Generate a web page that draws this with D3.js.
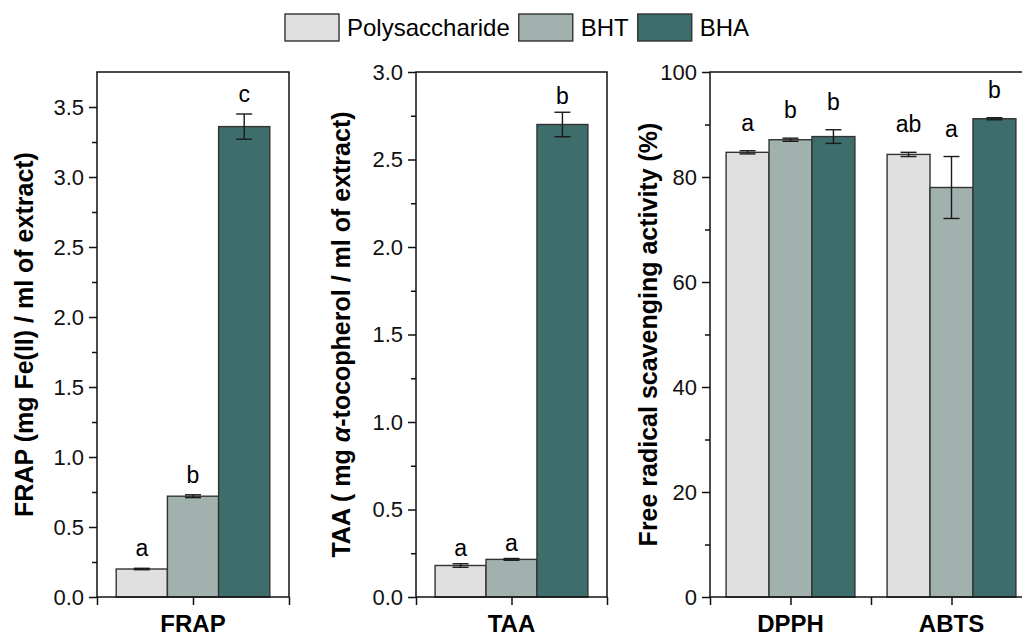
<!DOCTYPE html>
<html>
<head>
<meta charset="utf-8">
<script src="https://cdn.jsdelivr.net/npm/d3@7"></script>
<style>
body{margin:0;background:#fff;}
svg{display:block;font-family:"Liberation Sans",Arial,sans-serif;}
</style>
</head>
<body>
<script>
// series shown in every panel
var series = ["Polysaccharide", "BHT", "BHA"];

// FRAP panel
var frapCats = ["FRAP"];
var frapVals = [[0.20, 0.72, 3.36]];
var frapErr = [[0.005, 0.01, 0.09]];
var frapLetters = [["a", "b", "c"]];
var frapTicks = [0, 0.5, 1.0, 1.5, 2.0, 2.5, 3.0, 3.5];

// TAA panel
var taaCats = ["TAA"];
var taaVals = [[0.18, 0.215, 2.70]];
var taaErr = [[0.01, 0.005, 0.07]];
var taaLetters = [["a", "a", "b"]];
var taaTicks = [0, 0.5, 1.0, 1.5, 2.0, 2.5, 3.0];

// radical scavenging panel
var radCats = ["DPPH", "ABTS"];
var radVals = [[84.7, 87.1, 87.7], [84.3, 78.0, 91.1]];
var radErr = [[0.3, 0.3, 1.3], [0.4, 5.9, 0.2]];
var radLetters = [["a", "b", "b"], ["ab", "a", "b"]];
var radTicks = [0, 20, 40, 60, 80, 100];

var width = 1022,
    height = 638;
var plotTop = 72,
    plotBottom = 597;
var colors = ["#e0e0e0", "#a0b1ae", "#3e6e6b"];

var svg = d3.select("body")
    .append("svg")
    .attr("width", width)
    .attr("height", height);

var panels = [
    {cats: frapCats, vals: frapVals, err: frapErr, letters: frapLetters, ticks: frapTicks,
     max: 3.75, fmt: d3.format(".1f"), left: 97, right: 289, gap: 12,
     title: "FRAP (mg Fe(II) / ml of extract)", titleX: 33},
    {cats: taaCats, vals: taaVals, err: taaErr, letters: taaLetters, ticks: taaTicks,
     max: 3.0, fmt: d3.format(".1f"), left: 416, right: 607, gap: 8,
     title: null, titleX: 350},
    {cats: radCats, vals: radVals, err: radErr, letters: radLetters, ticks: radTicks,
     max: 100, fmt: d3.format("d"), left: 710, right: 1032, gap: 20,
     title: "Free radical scavenging activity (%)", titleX: 657}
];

panels.forEach(drawPanel);

function drawPanel(p){
    var n = p.cats.length;
    var x = d3.scaleLinear().domain([0.5, n + 0.5]).range([p.left, p.right]);
    var y = d3.scaleLinear().domain([0, p.max]).range([plotBottom, plotTop]);
    var g = svg.append("g");

    var groupW = 0.8,
        barW = groupW / series.length;

    //flatten into one row per bar
    var rows = [];
    p.cats.forEach(function(c, i){
        series.forEach(function(s, j){
            var x0 = (i + 1) - groupW / 2 + j * barW;
            rows.push({x0: x0, x1: x0 + barW, v: p.vals[i][j], e: p.err[i][j], s: j, letter: p.letters[i][j]});
        });
    });

    g.selectAll(".bar")
        .data(rows)
        .enter()
        .append("rect")
        .attr("class", "bar")
        .attr("x", function(d){ return x(d.x0); })
        .attr("width", function(d){ return x(d.x1) - x(d.x0); })
        .attr("y", function(d){ return y(d.v); })
        .attr("height", function(d){ return y(0) - y(d.v); })
        .attr("fill", function(d){ return colors[d.s]; })
        .attr("stroke", "#333")
        .attr("stroke-width", 1.4);

    //error bars
    var eb = g.selectAll(".err")
        .data(rows)
        .enter()
        .append("g")
        .attr("class", "err")
        .attr("stroke", "#1a1a1a")
        .attr("stroke-width", 1.4);
    eb.append("line")
        .attr("x1", function(d){ return x((d.x0 + d.x1) / 2); })
        .attr("x2", function(d){ return x((d.x0 + d.x1) / 2); })
        .attr("y1", function(d){ return y(d.v - d.e); })
        .attr("y2", function(d){ return y(d.v + d.e); });
    [-1, 1].forEach(function(sg){
        eb.append("line")
            .attr("x1", function(d){ return x((d.x0 + d.x1) / 2) - 8; })
            .attr("x2", function(d){ return x((d.x0 + d.x1) / 2) + 8; })
            .attr("y1", function(d){ return y(d.v + sg * d.e); })
            .attr("y2", function(d){ return y(d.v + sg * d.e); });
    });

    //significance letters
    g.selectAll(".letter")
        .data(rows)
        .enter()
        .append("text")
        .attr("class", "letter")
        .attr("x", function(d){ return x((d.x0 + d.x1) / 2); })
        .attr("y", function(d){ return y(d.v + d.e) - p.gap; })
        .attr("text-anchor", "middle")
        .style("font-size", "23px")
        .text(function(d){ return d.letter; });

    //frame
    g.append("rect")
        .attr("x", p.left)
        .attr("y", plotTop)
        .attr("width", p.right - p.left)
        .attr("height", plotBottom - plotTop)
        .attr("fill", "none")
        .attr("stroke", "#111")
        .attr("stroke-width", 1.5);

    //y axis major + minor ticks
    var step = p.ticks[1] - p.ticks[0];
    var minors = p.ticks.map(function(t){ return t + step / 2; })
        .filter(function(t){ return t < p.max; });
    var ya = g.append("g")
        .attr("transform", "translate(" + p.left + ",0)")
        .call(d3.axisLeft(y).tickValues(p.ticks).tickSize(8).tickPadding(5).tickFormat(p.fmt));
    g.append("g")
        .attr("transform", "translate(" + p.left + ",0)")
        .call(d3.axisLeft(y).tickValues(minors).tickSize(5).tickFormat(""))
        .call(function(s){ s.select(".domain").remove(); });
    ya.select(".domain").remove();
    ya.selectAll("text").style("font-size", "22px").attr("fill", "#111");
    g.selectAll(".tick line").attr("stroke", "#111").attr("stroke-width", 1.5);

    //x axis ticks at edges, centres and midpoints
    var xa = g.append("g")
        .attr("transform", "translate(0," + plotBottom + ")")
        .call(d3.axisBottom(x).tickValues(d3.range(0.5, n + 0.51, 0.5)).tickSize(8).tickFormat(""));
    xa.select(".domain").remove();
    xa.selectAll(".tick line").attr("stroke", "#111").attr("stroke-width", 1.5);

    g.selectAll(".cat")
        .data(p.cats)
        .enter()
        .append("text")
        .attr("class", "cat")
        .attr("x", function(d, i){ return x(i + 1); })
        .attr("y", 632)
        .attr("text-anchor", "middle")
        .style("font-size", "24px")
        .style("font-weight", "bold")
        .text(function(d){ return d; });

    //y title
    var t = svg.append("text")
        .attr("transform", "translate(" + p.titleX + "," + ((plotTop + plotBottom) / 2) + ") rotate(-90)")
        .attr("text-anchor", "middle")
        .style("font-size", "25px")
        .style("font-weight", "bold");
    if (p.title){
        t.text(p.title);
    } else {
        t.append("tspan").text("TAA ( mg ");
        t.append("tspan").style("font-style", "italic").text("\u03b1");
        t.append("tspan").text("-tocopherol / ml of extract)");
    }
}

//legend
var lx = 285;
var legend = svg.append("g");
series.forEach(function(s, i){
    legend.append("rect")
        .attr("x", lx)
        .attr("y", 14)
        .attr("width", 54)
        .attr("height", 27)
        .attr("fill", colors[i])
        .attr("stroke", "#333")
        .attr("stroke-width", 1.4);
    var txt = legend.append("text")
        .attr("x", lx + 62)
        .attr("y", 36)
        .style("font-size", "24px")
        .text(s);
    lx = lx + 62 + txt.node().getComputedTextLength() + 9;
});
</script>
</body>
</html>
